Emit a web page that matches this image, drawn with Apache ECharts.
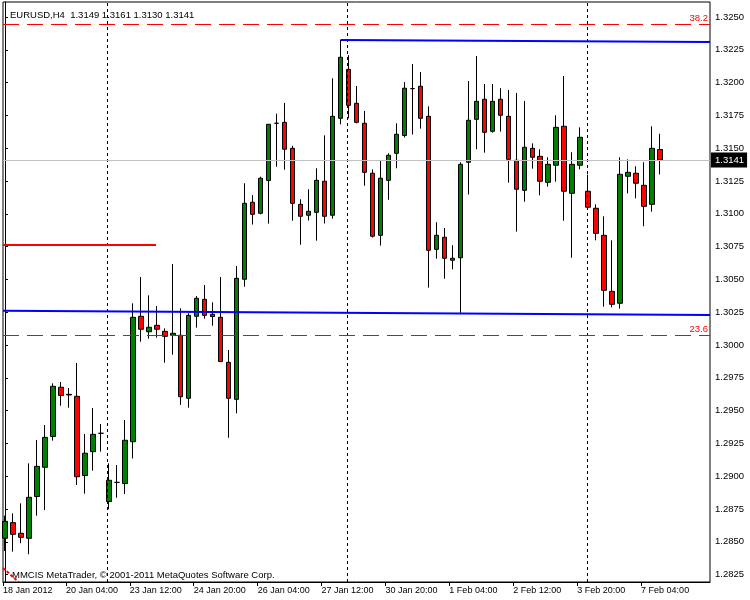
<!DOCTYPE html>
<html><head><meta charset="utf-8">
<script src="https://cdn.jsdelivr.net/npm/echarts@6/dist/echarts.min.js"></script>
<style>html,body{margin:0;padding:0;background:#fff}#c{width:750px;height:600px}</style>
</head><body><div id="c"></div>
<script>
const opens = [1.28527,1.28646,1.28565,1.28527,1.28845,1.29068,1.29303,1.29678,1.29624,1.29609,
1.29005,1.29187,1.29327,1.28807,1.28953,1.28944,1.29263,1.30219,1.30101,1.30150,
1.30104,1.30074,1.30074,1.29594,1.30219,1.30348,1.30234,1.30211,1.29868,1.29586,
1.30501,1.31088,1.31004,1.31254,1.31690,1.31697,1.31499,1.31072,1.30989,1.31011,
1.31248,1.30989,1.31728,1.32101,1.31842,1.31690,1.31309,1.30836,1.31255,1.31461,
1.31597,1.31954,1.31972,1.31743,1.30729,1.30821,1.30646,1.30665,1.31393,1.31720,
1.31873,1.31629,1.31873,1.31743,1.31408,1.31179,1.31499,1.31438,1.31240,1.31370,
1.31667,1.31156,1.31370,1.31172,1.31042,1.30836,1.30409,1.30318,1.31286,1.31309,
1.31217,1.31072,1.3149];
const highs = [1.28699,1.28717,1.28793,1.29098,1.29276,1.29390,1.29708,1.29718,1.29672,1.29863,
1.29322,1.29520,1.29398,1.29098,1.29085,1.29428,1.30318,1.30518,1.30379,1.30297,
1.30127,1.30617,1.30280,1.30242,1.30373,1.30457,1.30325,1.30518,1.29962,1.30602,
1.31233,1.31143,1.31283,1.31685,1.31763,1.31845,1.31518,1.31111,1.31187,1.31347,
1.31598,1.32033,1.32325,1.32209,1.31974,1.31784,1.31339,1.31402,1.31461,1.31690,
1.32005,1.32142,1.32081,1.31819,1.30936,1.30892,1.30761,1.31393,1.32012,1.32203,
1.31989,1.31989,1.31957,1.31944,1.31921,1.31860,1.31537,1.31492,1.31431,1.31751,
1.32050,1.31469,1.31659,1.31298,1.31072,1.30981,1.30798,1.31431,1.31415,1.31362,
1.31393,1.31667,1.3161];
const lows = [1.28430,1.28425,1.28489,1.28405,1.28699,1.28742,1.29271,1.29537,1.29522,1.28933,
1.28867,1.29042,1.29187,1.28748,1.28836,1.28864,1.29135,1.30025,1.30048,1.30056,
1.29865,1.29926,1.29543,1.29522,1.30132,1.30200,1.30147,1.29870,1.29293,1.29479,
1.30444,1.30918,1.30996,1.30925,1.31359,1.31336,1.30947,1.30764,1.30949,1.30795,
1.30926,1.30963,1.31682,1.31728,1.31690,1.31214,1.30819,1.30758,1.31107,1.31347,
1.31582,1.31604,1.31649,1.30437,1.30658,1.30505,1.30577,1.30234,1.31147,1.31492,
1.31466,1.31618,1.31626,1.31237,1.30864,1.31092,1.31344,1.31141,1.31207,1.31245,
1.30947,1.30665,1.31339,1.31040,1.30798,1.30292,1.30287,1.30277,1.31156,1.31118,
1.30905,1.31016,1.3130];
const closes = [1.28656,1.28557,1.28534,1.28839,1.29075,1.29296,1.29685,1.29615,1.29619,1.28996,
1.29175,1.29319,1.29327,1.28969,1.28953,1.29274,1.30211,1.30120,1.30135,1.30120,
1.30066,1.30089,1.29606,1.30226,1.30356,1.30226,1.30217,1.29874,1.29594,1.30508,
1.31080,1.30996,1.31271,1.31682,1.31690,1.31492,1.31080,1.30981,1.31019,1.31255,
1.30981,1.31743,1.32193,1.31827,1.31697,1.31316,1.30829,1.31271,1.31446,1.31606,
1.31957,1.31954,1.31728,1.30722,1.30836,1.30661,1.30661,1.31377,1.31713,1.31857,
1.31621,1.31857,1.31751,1.31415,1.31187,1.31507,1.31431,1.31248,1.31377,1.31659,
1.31172,1.31377,1.31583,1.31050,1.30851,1.30417,1.30310,1.31301,1.31316,1.31233,
1.31057,1.31499,1.3141];

const xTickIdx = [0,8,16,24,32,40,48,56,64,72,80];
const xTickLabels = ['18 Jan 2012','20 Jan 04:00','23 Jan 12:00','24 Jan 20:00','26 Jan 04:00','27 Jan 12:00','30 Jan 20:00','1 Feb 04:00','2 Feb 12:00','3 Feb 20:00','7 Feb 04:00'];
const yTicks = [1.2825,1.2850,1.2875,1.2900,1.2925,1.2950,1.2975,1.3000,1.3025,1.3050,1.3075,1.3100,1.3125,1.3150,1.3175,1.3200,1.3225,1.3250];
const weekStarts = [13,43,73];
const lastPrice = 1.3141;
const headerText = 'EURUSD,H4  1.3149 1.3161 1.3130 1.3141';
const footerText = 'MMCIS MetaTrader, \u00A9 2001-2011 MetaQuotes Software Corp.';
const fibLevels = ['38.2','23.6'];
const fibPrices = [1.32444,1.30074];
const upperTrend = [[42,1.32325],[88.25,1.32309]];
const lowerTrend = [[-0.25,1.30261],[88.25,1.30229]];
const redLevel = [[-0.25,1.30762],[18.9,1.30762]];
const fibDiag = [[-0.25,1.28300],[1.7,1.28194]];

const X_MIN = -0.25, X_MAX = 88.25;
const Y_MIN = 1.281936, Y_MAX = 1.326143;
const FONT = 'Liberation Sans, Arial, sans-serif';
const LABEL_SHIFT = -0.375;

const candleData = opens.map((o,i)=>[i,o,closes[i],lows[i],highs[i]]);
const xLabelPos = xTickIdx.map(i=>Math.max(X_MIN, i+LABEL_SHIFT));

const chart = echarts.init(document.getElementById('c'), null, {renderer:'canvas'});
chart.setOption({
  animation:false,
  backgroundColor:'#fff',
  title:[
    {text:headerText,left:5,top:5,textStyle:{fontFamily:FONT,fontSize:9.5,fontWeight:'normal',color:'#000'}},
    {text:footerText,left:7,top:565,textStyle:{fontFamily:FONT,fontSize:9.5,fontWeight:'normal',color:'#000'}}
  ],
  grid:{left:2,top:2,right:40,bottom:18,show:true,borderColor:'#000',borderWidth:1,backgroundColor:'#fff'},
  xAxis:{type:'value',min:X_MIN,max:X_MAX,
    axisLine:{show:true,lineStyle:{color:'#000',width:1}},
    axisTick:{show:true,customValues:xLabelPos,length:4,lineStyle:{color:'#000'}},
    axisLabel:{customValues:xLabelPos,showMinLabel:true,align:'left',margin:4,fontFamily:FONT,fontSize:9,color:'#000',
      formatter:v=>{const k=xTickIdx.indexOf(Math.round(v-LABEL_SHIFT));return k>=0?xTickLabels[k]:xTickLabels[0];}},
    splitLine:{show:false}},
  yAxis:{type:'value',position:'right',min:Y_MIN,max:Y_MAX,
    axisLine:{show:true,lineStyle:{color:'#000',width:1}},
    axisTick:{show:true,customValues:yTicks,length:3,lineStyle:{color:'#000'}},
    axisLabel:{customValues:yTicks,margin:5,fontFamily:FONT,fontSize:9.5,color:'#000',formatter:v=>v.toFixed(4)},
    splitLine:{show:false}},
  series:[
    {type:'line',data:[],z:1,silent:true,
      markLine:{symbol:['none','none'],silent:true,animation:false,precision:6,
        data:[
          ...weekStarts.map(w=>({xAxis:w-0.15,lineStyle:{color:'#000',type:[3,3],width:1},label:{show:false}})),
          {yAxis:lastPrice,lineStyle:{color:'#c0c0c0',type:'solid',width:1},
            label:{show:true,position:'end',distance:1,formatter:lastPrice.toFixed(4),backgroundColor:'#000',color:'#fff',
              padding:[3,3,2,4],fontFamily:FONT,fontSize:9.5}}
        ]}},
    {type:'candlestick',z:2,data:candleData,encode:{x:0,y:[1,2,3,4]},barWidth:5,
      itemStyle:{color:'#008000',color0:'#ff0000',borderColor:'#000',borderColor0:'#000',borderColorDoji:'#000',borderWidth:1}},
    {type:'line',data:[],z:3,silent:true,
      markLine:{symbol:['none','none'],silent:true,animation:false,precision:6,
        data:[
          ...fibPrices.map((p,k)=>({yAxis:p,lineStyle:{color:'#ff0000',type:[16,8],width:1},
            label:{show:true,position:'insideEndTop',distance:[2,1],formatter:fibLevels[k],color:'#ff0000',fontFamily:FONT,fontSize:9.5}})),
          [{coord:upperTrend[0]},{coord:upperTrend[1],lineStyle:{color:'#0000ff',width:2,type:'solid'},label:{show:false}}],
          [{coord:lowerTrend[0]},{coord:lowerTrend[1],lineStyle:{color:'#0000ff',width:2,type:'solid'},label:{show:false}}],
          [{coord:redLevel[0]},{coord:redLevel[1],lineStyle:{color:'#ff0000',width:2,type:'solid'},label:{show:false}}],
          [{coord:fibDiag[0]},{coord:fibDiag[1],lineStyle:{color:'#ff0000',width:2,type:[3,2]},label:{show:false}}]
        ]}}
  ]
});
</script></body></html>
